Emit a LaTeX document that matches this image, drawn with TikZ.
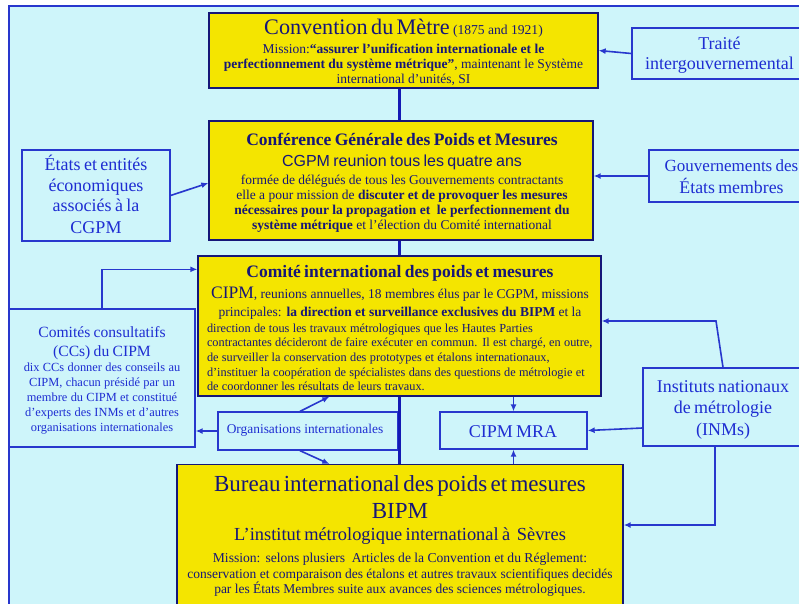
\documentclass[tikz,border=0pt]{standalone}
\usepackage{fontspec}
\setmainfont{Liberation Serif}
\setsansfont{Liberation Sans}
\usetikzlibrary{arrows.meta,calc}
\definecolor{bgc}{RGB}{206,245,250}
\definecolor{yel}{RGB}{244,229,0}
\definecolor{navy}{RGB}{22,22,120}
\definecolor{bltx}{RGB}{30,45,210}
\definecolor{blln}{RGB}{40,55,205}
\definecolor{thk}{RGB}{20,25,180}
\newcommand{\myC}[3]{{\fontsize{#1}{#2}\selectfont\mbox{#3}\par}}
\newcommand{\myL}[3]{{\raggedright\fontsize{#1}{#2}\selectfont\mbox{#3}\par}}
\tikzset{
 ybox/.style={draw=navy, fill=yel, line width=1.3pt, inner sep=0pt},
 bbox/.style={draw=blln, line width=1.3pt, inner sep=0pt},
 ytxt/.style={text=navy, inner sep=0pt, anchor=base, align=center},
 btxt/.style={text=bltx, inner sep=0pt, anchor=base, align=center},
 spineline/.style={draw=thk, line width=3pt},
 conn/.style={draw=blln, line width=1.6pt, -{Latex[length=7pt,width=6pt]}},
}
\begin{document}
\begin{tikzpicture}[x=1pt,y=-1pt]
\useasboundingbox (0,0) rectangle (799,603);
\clip (0,0) rectangle (799,603);
\fill[white] (0,0) rectangle (799,603);
\fill[bgc] (9,6) rectangle (815,615);
\draw[blln, line width=1.2pt] (9,615) -- (9,6) -- (815,6);

% boxes
\node[ybox, minimum width=389pt, minimum height=75pt] (conv) at (403.5,50.5) {};
\node[ybox, minimum width=384pt, minimum height=119pt] (cgpm) at (401,180.5) {};
\node[ybox, minimum width=403pt, minimum height=140pt] (cipm) at (399.5,326) {};
\node[ybox, minimum width=446pt, minimum height=141pt, anchor=north] (bipm) at (400,464) {};
\node[bbox, minimum width=175pt, minimum height=51pt] (traite) at (719.5,53.5) {};
\node[bbox, minimum width=148pt, minimum height=91pt] (etats) at (96,195.5) {};
\node[bbox, minimum width=166pt, minimum height=52pt] (gouv) at (732,176) {};
\node[bbox, minimum width=186pt, minimum height=138pt] (ccs) at (102,378) {};
\node[bbox, minimum width=180pt, minimum height=38pt] (orgs) at (308,431) {};
\node[bbox, minimum width=147pt, minimum height=37pt] (mra) at (513.5,430.5) {};
\node[bbox, minimum width=160pt, minimum height=78pt] (inms) at (723,407) {};

% texts
\node[ytxt, text width=385pt] (convt) at (403.5,34.3) {%
\myC{22.2}{24}{Convention du Mètre {\fontsize{13.6}{16}\selectfont(1875 and 1921)}}%
\myC{13.5}{19}{Mission:\textbf{“assurer l’unification internationale et le}}%
\myC{13.5}{15.2}{\textbf{perfectionnement du système métrique”}, maintenant le Système}%
\myC{13.5}{15.2}{international d’unités, SI}};

\node[ytxt, text width=380pt] (cgpmt) at (402,145) {%
\myC{17.5}{20}{\bfseries Conférence Générale des Poids et Mesures}%
\myC{16}{21}{\sffamily CGPM reunion tous les quatre ans}%
\myC{13.5}{18}{formée de délégués de tous les Gouvernements contractants}%
\myC{13.5}{15.3}{elle a pour mission de \textbf{discuter et de provoquer les mesures}}%
\myC{13.5}{15}{\textbf{nécessaires pour la propagation et~ le perfectionnement du}}%
\myC{13.5}{15}{\textbf{système métrique} et l’élection du Comité international}};

\node[ytxt, text width=386pt] (cipmt) at (400,277.3) {%
\myC{17.5}{20}{\bfseries Comité international des poids et mesures}%
\myC{13.5}{21}{{\fontsize{17.5}{21}\selectfont CIPM}, reunions annuelles, 18 membres élus par le CGPM, missions}%
\myC{13.5}{17.7}{principales: \textbf{la direction et surveillance exclusives du BIPM} et la}%
\myL{12.3}{16}{direction de tous les travaux métrologiques que les Hautes Parties}%
\myL{12.3}{14.5}{contractantes décideront de faire exécuter en commun. Il est chargé, en outre,}%
\myL{12.3}{15}{de surveiller la conservation des prototypes et étalons internationaux,}%
\myL{12.3}{14.8}{d’instituer la coopération de spécialistes dans des questions de métrologie et}%
\myL{12.3}{13.7}{de coordonner les résultats de leurs travaux.}};

\node[ytxt, text width=440pt] (bipmt) at (400,491.7) {%
\myC{23}{26}{Bureau international des poids et mesures}%
\myC{23}{26.6}{BIPM}%
\myC{18.4}{22.4}{L’institut métrologique international à~ Sèvres}%
\myC{13.6}{22}{Mission: selons plusiers~ Articles de la Convention et du Réglement:}%
\myC{13.5}{15.6}{conservation et comparaison des étalons et autres travaux scientifiques decidés}%
\myC{13.5}{15}{par les États Membres suite aux avances des sciences métrologiques.}};

\node[btxt, text width=175pt] (traitet) at (719.5,49.3) {%
\myC{18}{21}{Traité}\myC{18}{20.5}{intergouvernemental}};
\node[btxt, text width=148pt] (etatst) at (96,170) {%
\myC{18}{21}{États et entités}\myC{18}{21}{économiques}%
\myC{18}{20.7}{associés à la}\myC{18}{21.6}{CGPM}};
\node[btxt, text width=166pt] (gouvt) at (731.5,171.7) {%
\myC{17}{21}{Gouvernements des}\myC{17.8}{21.6}{États membres}};
\node[btxt, text width=180pt] (ccst) at (102,337.3) {%
\myC{15.6}{18}{Comités consultatifs}%
\myC{15.6}{18.7}{(CCs) du CIPM}%
\myC{12.4}{15.7}{dix CCs donner des conseils au}%
\myC{12.4}{15}{CIPM, chacun présidé par un}%
\myC{12.4}{15}{membre du CIPM et constitué}%
\myC{12.4}{15}{d’experts des INMs et d’autres}%
\myC{12.4}{14.3}{organisations internationales}};
\node[btxt, text width=180pt] (orgst) at (305,433.3) {\myC{13.4}{16}{Organisations internationales}};
\node[btxt, text width=147pt] (mrat) at (513,437.3) {\myC{18}{20}{CIPM MRA}};
\node[btxt, text width=160pt] (inmst) at (723,392.3) {%
\myC{18}{21}{Instituts nationaux}\myC{18}{21}{de métrologie}\myC{18}{21.7}{(INMs)}};

% connectors
\coordinate (spine) at (399.5,0);
\draw[spineline] (conv.south -| spine) -- (cgpm.north -| spine);
\draw[spineline] (cgpm.south -| spine) -- (cipm.north -| spine);
\draw[spineline] (cipm.south -| spine) -- (bipm.north -| spine);

\draw[conn] (traite.west) -- (conv.east);
\draw[conn] (gouv.west) -- (cgpm.east |- gouv.west);
\draw[conn] (etats.east) -- ($(cgpm.west)+(0,2.5)$);
\draw[conn] (ccs.north) |- ($(cipm.north west)+(0,14)$);
\draw[conn] (orgs.west) -- (ccs.east |- orgs.west);
\draw[conn] ($(orgs.north)+(-8,0)$) -- ($(cipm.south west)+(132,0)$);
\draw[conn] ($(orgs.south)+(-8,0)$) -- ($(bipm.north west)+(153,0)$);
\draw[conn] (mra.north |- cipm.south) -- (mra.north);
\draw[conn] (mra.south |- bipm.north) -- (mra.south);
\draw[conn] ($(inms.west)+(0,21)$) -- (mra.east);
\coordinate (k1) at (716,321);
\draw[conn] (inms.north) -- (k1) -- (cipm.east |- k1);
\coordinate (k2) at (715,525);
\draw[conn] (inms.south -| k2) -- (k2) -- (bipm.east |- k2);
\end{tikzpicture}
\end{document}
